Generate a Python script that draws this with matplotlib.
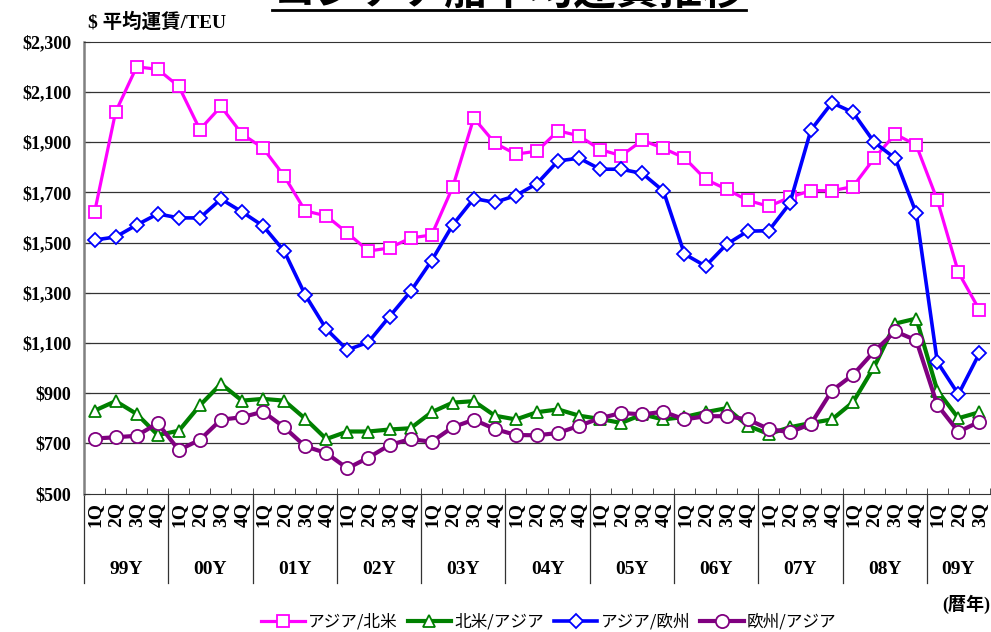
import matplotlib
matplotlib.use("Agg")
import matplotlib.pyplot as plt
import matplotlib.transforms as mtransforms
from matplotlib.lines import Line2D
import numpy as np

years = ["99Y", "00Y", "01Y", "02Y", "03Y", "04Y", "05Y", "06Y", "07Y", "08Y", "09Y"]
quarters = ["1Q", "2Q", "3Q", "4Q"] * 10 + ["1Q", "2Q", "3Q"]

series_names = ["アジア/北米", "北米/アジア", "アジア/欧州", "欧州/アジア"]

asia_na = [1620, 2020, 2200, 2190, 2122, 1950, 2042, 1932, 1876, 1765, 1626, 1606,
           1538, 1466, 1478, 1518, 1530, 1721, 1996, 1896, 1852, 1864, 1945, 1925,
           1870, 1846, 1907, 1875, 1837, 1752, 1712, 1668, 1644, 1680, 1707, 1706,
           1723, 1835, 1932, 1888, 1669, 1381, 1231]
na_asia = [830, 868, 817, 733, 750, 851, 937, 870, 877, 870, 798, 717,
           747, 747, 755, 760, 824, 862, 868, 810, 795, 824, 835, 810,
           797, 781, 815, 795, 805, 824, 840, 770, 737, 764, 781, 795,
           864, 1004, 1177, 1197, 910, 800, 824]
asia_eu = [1510, 1522, 1570, 1614, 1598, 1598, 1673, 1622, 1566, 1466, 1291, 1155,
           1072, 1103, 1205, 1305, 1428, 1570, 1675, 1660, 1687, 1735, 1825, 1836,
           1792, 1792, 1775, 1705, 1454, 1406, 1493, 1545, 1547, 1656, 1948, 2057,
           2018, 1900, 1835, 1617, 1024, 895, 1059]
eu_asia = [719, 724, 730, 780, 673, 714, 794, 804, 826, 764, 688, 661,
           600, 643, 693, 717, 706, 764, 794, 757, 733, 732, 741, 770,
           800, 821, 815, 826, 795, 808, 808, 795, 757, 744, 777, 910,
           973, 1066, 1146, 1110, 853, 746, 786]

W, H = 991, 632
fig = plt.figure(figsize=(W / 100, H / 100), dpi=100)
ax_l, ax_r, ax_t, ax_b = 84, 990, 41.7, 493.5
ax = fig.add_axes([ax_l / W, 1 - ax_b / H, (ax_r - ax_l) / W, (ax_b - ax_t) / H])

x = np.arange(len(quarters))
styles = [
    (asia_na, "#FF00FF", "s", 8.5, 2.3),
    (na_asia, "#008000", "^", 8.5, 3.0),
    (asia_eu, "#0000FF", "D", 7.2, 2.6),
    (eu_asia, "#800080", "o", 9.5, 3.0),
]
handles = []
for (vals, col, mk, ms, lw), name in zip(styles, series_names):
    h, = ax.plot(x, vals, color=col, lw=lw, marker=mk, ms=ms,
                 markerfacecolor="white", markeredgecolor=col, markeredgewidth=1.3,
                 label=name, zorder=3)
    handles.append(h)

ax.set_xlim(-0.5, len(quarters) - 0.5)
ax.set_ylim(500, 2300)
ax.set_yticks(np.arange(500, 2301, 200))
ax.set_yticklabels(["${:,}".format(v) for v in range(500, 2301, 200)],
                   fontfamily="Liberation Serif", fontweight="bold", fontsize=13)
for v in range(700, 2300, 200):
    ax.axhline(v, color="#333333", lw=0.9, zorder=1)

ax.tick_params(axis="y", direction="in", length=4, pad=9, color="#333333")
ax.set_xticks(x)
ax.set_xticklabels(quarters, rotation=90, fontfamily="Liberation Serif",
                   fontweight="bold", fontsize=14)
ax.tick_params(axis="x", which="major", length=0, pad=6)
ax.set_xticks(np.arange(-0.5, len(quarters), 1), minor=True)
ax.tick_params(axis="x", which="minor", direction="in", length=4, color="#333333")

ax.spines["right"].set_visible(False)
ax.spines["top"].set_color("#333333")
ax.spines["left"].set_color("#808080")
ax.spines["left"].set_linewidth(1.8)
ax.spines["bottom"].set_color("#333333")

trans = mtransforms.blended_transform_factory(ax.transData, ax.transAxes)
axh = ax_b - ax_t
sep_bottom = (ax_b - 583) / axh
year_y = (ax_b - 570) / axh
for k in range(len(years)):
    xb = k * 4 - 0.5
    ax.add_line(Line2D([xb, xb], [0, sep_bottom], transform=trans, color="#333333",
                       lw=0.9, clip_on=False))
    n = min(4, len(quarters) - k * 4)
    ax.text(k * 4 - 0.5 + n / 2, year_y, years[k], transform=trans, ha="center",
            va="center", fontfamily="Liberation Serif", fontweight="bold", fontsize=14)

fig.text(88 / W, 1 - 22 / H, "$ 平均運賃/TEU", ha="left", va="center",
         family=["Liberation Serif", "Noto Sans CJK JP"], fontweight="bold", fontsize=14)
fig.text(990 / W, 1 - 604 / H, "(暦年)", ha="right", va="center",
         family=["Liberation Serif", "Noto Sans CJK JP"], fontweight="bold", fontsize=13)

fig.text(509 / W, 1 - 4 / H, "コンテナ船平均運賃推移", ha="center", va="baseline",
         family=["Noto Sans CJK JP"], fontweight="bold", fontsize=31)
fig.add_artist(Line2D([272 / W, 746 / W], [1 - 9.5 / H, 1 - 9.5 / H],
                      transform=fig.transFigure, color="black", lw=2))

fig.legend(handles=handles, loc="center", bbox_to_anchor=(549 / W, 1 - 622 / H),
           ncol=4, frameon=False, handlelength=2.6, columnspacing=0.6,
           handletextpad=0.2, numpoints=1,
           prop={"family": ["Noto Sans CJK JP"], "size": 12})

fig.savefig("out.png", dpi=100)
